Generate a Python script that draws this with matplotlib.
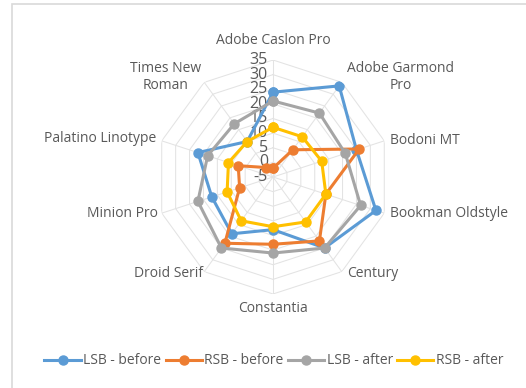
import numpy as np
import matplotlib
matplotlib.use("Agg")
import matplotlib.pyplot as plt
from matplotlib.patches import Rectangle

# font families, clockwise from the top
categories = ["Adobe Caslon Pro", "Adobe Garmond\nPro", "Bodoni MT", "Bookman Oldstyle",
              "Century", "Constantia", "Droid Serif", "Minion Pro",
              "Palatino Linotype", "Times New\nRoman"]

lsb_before = [24, 33.5, 25, 32, 25, 13, 19, 17, 22, 10]
rsb_before = [-2, 6.5, 26, 14, 22, 18, 23, 7, 7.5, -1]
lsb_after = [21, 22, 21, 26.5, 25, 21, 25, 22, 18.5, 17.5]
rsb_after = [12, 12, 12.5, 14, 14, 12, 13.5, 11.5, 11, 10]

series_names = ["LSB - before", "RSB - before", "LSB - after", "RSB - after"]
ticks = [-5, 0, 5, 10, 15, 20, 25, 30, 35]

colors = ["#5B9BD5", "#ED7D31", "#A5A5A5", "#FFC000"]
txt = "#595959"
grid_c = "#E3E3E3"

plt.rcParams["font.family"] = ["Open Sans", "DejaVu Sans"]

W, H = 526, 388
fig = plt.figure(figsize=(W / 100, H / 100), dpi=100)

# chart frame
fig.patches.append(Rectangle((12 / W, -0.1), 1.2, (H - 4) / H + 0.1, transform=fig.transFigure,
                             fill=False, edgecolor="#D9D9D9", lw=1.2))

cx, cy, R = 273, 177, 117
ax = fig.add_axes([(cx - R) / W, (H - cy - R) / H, 2 * R / W, 2 * R / H], projection="polar")
ax.set_theta_offset(np.pi / 2)
ax.set_theta_direction(-1)
ax.set_ylim(ticks[0], ticks[-1])
ax.grid(False)
ax.spines["polar"].set_visible(False)
ax.set_xticks([])
ax.set_yticks([])
ax.patch.set_alpha(0)

n = len(categories)
theta = np.linspace(0, 2 * np.pi, n, endpoint=False)
theta_c = np.append(theta, theta[0])

# polygon grid
for t in ticks:
    ax.plot(theta_c, [t] * (n + 1), color=grid_c, lw=0.75, zorder=1)
for th in theta:
    ax.plot([th, th], [ticks[0], ticks[-1]], color=grid_c, lw=0.75, zorder=1)

# tick labels on the top spoke
for t in ticks:
    ax.annotate(str(t), xy=(0, t), xytext=(-5, 0), textcoords="offset pixels",
                ha="right", va="center", fontsize=11.5, color=txt)

for vals, c, name in zip([lsb_before, rsb_before, lsb_after, rsb_after], colors, series_names):
    v = np.append(vals, vals[0])
    ax.plot(theta_c, v, color=c, lw=2.2, marker="o", markersize=6.5, label=name, zorder=3)

# category labels around the outer ring
offsets = [(0, 12, "center", "bottom"), (5, 5, "left", "center"), (6, 0, "left", "center"),
           (6, 0, "left", "center"), (5, -2, "left", "center"), (0, -7, "center", "top"),
           (-1, -2, "right", "center"), (-4, 0, "right", "center"), (-5, 2, "right", "center"),
           (-3, 5, "right", "center")]
for th, lab, (dx, dy, ha, va) in zip(theta, categories, offsets):
    ax.annotate(lab, xy=(th, ticks[-1]), xytext=(dx, dy), textcoords="offset pixels",
                ha=ha, va=va, multialignment="center", fontsize=10, color=txt,
                annotation_clip=False)

leg = fig.legend(loc="center", bbox_to_anchor=(274 / W, 1 - 361 / H), ncol=4, frameon=False,
                 fontsize=10, handlelength=2.6, handletextpad=0.2, columnspacing=0.3,
                 labelcolor=txt)

fig.savefig("out.png", dpi=100)
